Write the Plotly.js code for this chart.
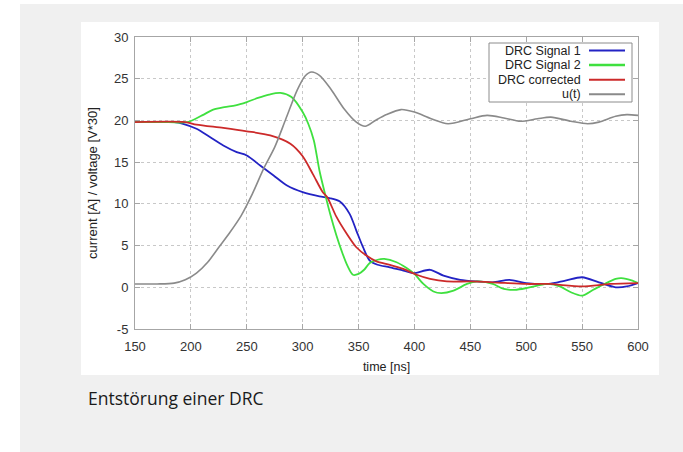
<!DOCTYPE html>
<html>
<head>
<meta charset="utf-8">
<script src="https://cdn.plot.ly/plotly-3.0.1.min.js"></script>
<style>
  html, body { margin: 0; padding: 0; background: #ffffff; }
  #chart { width: 683px; height: 452px; }
</style>
</head>
<body>
<div id="chart"></div>
<script>
// ---- data ----
const seriesNames = ["DRC Signal 1", "DRC Signal 2", "DRC corrected", "u(t)"];

const sig1T = [150,185,193,205,217,229,241,250,262,274,286,300,315,324,333,342,348,354,360,367,378,390,399,414,426,441,456,470,485,500,520,535,550,565,580,590,600];
const sig1V = [19.8,19.8,19.6,19.0,18.0,17.0,16.2,15.8,14.6,13.4,12.2,11.4,10.9,10.7,10.3,8.8,6.8,4.8,3.2,2.7,2.4,2.0,1.7,2.1,1.4,0.9,0.7,0.6,0.9,0.5,0.4,0.8,1.2,0.6,0.0,0.1,0.5];

const sig2T = [150,180,197,210,220,230,240,250,260,270,280,290,300,305,310,315,320,325,330,335,340,345,350,355,360,367,373,384,393,400,408,417,424,435,447,456,470,480,490,500,510,520,530,540,550,560,570,580,585,595,600];
const sig2V = [19.8,19.8,19.8,20.6,21.3,21.6,21.8,22.2,22.7,23.1,23.3,22.8,21.0,19.6,17.6,14.0,11.2,8.6,6.3,4.3,2.6,1.5,1.6,2.1,2.9,3.3,3.4,3.0,2.3,1.6,0.4,-0.5,-0.7,-0.4,0.4,0.7,0.4,-0.2,-0.3,-0.1,0.2,0.4,0.1,-0.6,-1.0,-0.3,0.4,1.0,1.1,0.8,0.5];

const corrT = [150,195,205,229,250,271,289,300,309,318,322,330,340,348,357,366,378,390,402,414,429,450,470,500,520,550,575,600];
const corrV = [19.8,19.8,19.5,19.1,18.7,18.2,17.2,15.7,13.6,11.4,10.8,8.5,6.3,4.8,3.8,3.1,2.7,2.2,1.5,1.0,0.7,0.7,0.6,0.4,0.4,0.1,0.4,0.5];

const uT = [150,170,185,195,205,215,225,235,245,255,265,275,285,295,302,308,315,325,337,348,356,365,375,388,400,415,430,450,465,480,495,510,522,540,555,565,580,590,600];
const uV = [0.4,0.4,0.5,0.9,1.7,3.0,4.8,6.6,8.6,11.2,14.2,16.8,20.2,23.6,25.3,25.8,25.4,23.8,21.4,19.8,19.3,20.0,20.7,21.3,21.0,20.2,19.6,20.2,20.6,20.3,19.9,20.2,20.4,19.9,19.6,19.8,20.5,20.7,20.6];

const xTicks = [150,200,250,300,350,400,450,500,550,600];
const yTicks = [-5,0,5,10,15,20,25,30];
const xLabel = "time [ns]";
const yLabel = "current [A] / voltage [V*30]";
const caption = "Entstörung einer DRC";

// ---- styling ----
const colors = ["#2323c4", "#3fe03f", "#cc2a2a", "#8a8a8a"];
const widths = [1.8, 1.8, 1.8, 1.6];
const xs = [sig1T, sig2T, corrT, uT];
const ys = [sig1V, sig2V, corrV, uV];

const traces = seriesNames.map((n, i) => ({
  type: "scatter", mode: "lines", name: n,
  x: xs[i], y: ys[i],
  line: { color: colors[i], width: widths[i], shape: "spline", smoothing: 0.8 },
  showlegend: false, hoverinfo: "skip"
}));

// plot area in pixels: x 135..638, y 37..329
const L = 135, R = 638, T = 37, B = 329, W = 683, H = 452;
const px = v => (v - L) / (R - L);
const py = v => (B - v) / (B - T);

const shapes = [
  { type: "rect", xref: "paper", yref: "paper", layer: "below",
    x0: px(20), x1: px(683), y0: py(4), y1: py(452),
    fillcolor: "#f0f0f0", line: { width: 0 } },
  { type: "rect", xref: "paper", yref: "paper", layer: "below",
    x0: px(81), x1: px(659), y0: py(22), y1: py(375),
    fillcolor: "#ffffff", line: { width: 0 } },
  // legend box
  { type: "rect", xref: "paper", yref: "paper", layer: "above",
    x0: px(489), x1: px(632), y0: py(43), y1: py(102),
    fillcolor: "#ffffff", line: { color: "#8c8c8c", width: 1 } }
];
const annotations = [
  { xref: "paper", yref: "paper", x: px(86), y: py(398), xanchor: "left", yanchor: "middle",
    text: caption, showarrow: false,
    font: { family: "Open Sans, sans-serif", size: 17.5, color: "#1a1a1a" } }
];
seriesNames.forEach((n, i) => {
  const yy = 50.5 + i * 14.6;
  shapes.push({ type: "line", xref: "paper", yref: "paper", layer: "above",
    x0: px(589), x1: px(625), y0: py(yy), y1: py(yy),
    line: { color: colors[i], width: i === 1 ? 2.5 : 2 } });
  annotations.push({ xref: "paper", yref: "paper", x: px(583), y: py(yy),
    xanchor: "right", yanchor: "middle", text: n, showarrow: false,
    font: { family: "Liberation Sans, Arial, sans-serif", size: 12.5, color: "#222222" } });
});

const axisCommon = {
  showline: true, mirror: "ticks", linecolor: "#a6a6a6", linewidth: 1,
  ticks: "inside", ticklen: 5, tickcolor: "#a6a6a6",
  showgrid: true, gridcolor: "#c8c8c8", griddash: "dot", gridwidth: 1,
  zeroline: false,
  tickfont: { family: "Liberation Sans, Arial, sans-serif", size: 13, color: "#333333" }
};

const layout = {
  width: W, height: H,
  margin: { l: L, r: W - R, t: T, b: H - B, pad: 0 },
  paper_bgcolor: "#ffffff", plot_bgcolor: "#ffffff",
  showlegend: false,
  xaxis: Object.assign({}, axisCommon, {
    range: [150, 600], tickvals: xTicks, ticktext: xTicks.map(String),
    ticklabelstandoff: 5,
    title: { text: xLabel, standoff: 9,
      font: { family: "Liberation Sans, Arial, sans-serif", size: 12.5, color: "#222222" } }
  }),
  yaxis: Object.assign({}, axisCommon, {
    range: [-5, 30], tickvals: yTicks, ticktext: yTicks.map(String),
    ticklabelstandoff: 3,
    title: { text: yLabel, standoff: 13,
      font: { family: "Liberation Sans, Arial, sans-serif", size: 13, color: "#222222" } }
  }),
  shapes: shapes,
  annotations: annotations
};

Plotly.newPlot("chart", traces, layout, { staticPlot: true, displayModeBar: false });
</script>
</body>
</html>
